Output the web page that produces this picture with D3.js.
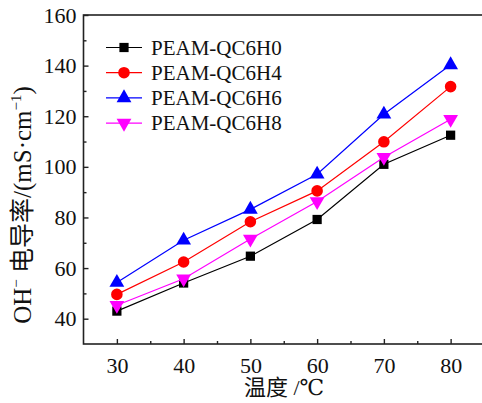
<!DOCTYPE html>
<html><head><meta charset="utf-8">
<script src="https://cdn.jsdelivr.net/npm/d3@7"></script>
<style>body{margin:0;background:#fff}svg{display:block}</style>
</head><body>
<svg id="c" width="482" height="403"></svg>
<script>
const temps = [30, 40, 50, 60, 70, 80];
const h0 = [43, 54.1, 64.7, 79.2, 101, 112.5];
const h4 = [49.6, 62.4, 78.3, 90.5, 109.9, 131.7];
const h6 = [54.3, 71, 83.2, 97.1, 120.8, 140.3];
const h8 = [45.3, 55.8, 71.5, 86.3, 103.8, 118.8];
const seriesNames = ["PEAM-QC6H0", "PEAM-QC6H4", "PEAM-QC6H6", "PEAM-QC6H8"];
const seriesColors = ["#000000", "#ff0000", "#0000ff", "#ff00ff"];
const seriesShapes = ["square", "circle", "up", "down"];
const yTicks = [40, 60, 80, 100, 120, 140, 160];
const xTicks = [30, 40, 50, 60, 70, 80];

const series = [h0, h4, h6, h8].map((v, i) => ({name: seriesNames[i], color: seriesColors[i], shape: seriesShapes[i], values: v}));

const svg = d3.select("#c");
const L = 83.5, R = 484, T = 15, B = 344;
const x = d3.scaleLinear().domain([25, 85]).range([L, R]);
const y = d3.scaleLinear().domain([30, 160]).range([B, T]);
const font = "Liberation Serif, Times New Roman, Tinos, DejaVu Serif, Noto Sans CJK SC, serif";

// frame
svg.append("rect").attr("x", L).attr("y", T).attr("width", R - L).attr("height", B - T)
  .attr("fill", "none").attr("stroke", "#222").attr("stroke-width", 1.6);

// axes
const xAxis = d3.axisBottom(x).tickValues(xTicks).tickSize(-5).tickPadding(13).tickFormat(d3.format("d"));
const gx = svg.append("g").attr("transform", `translate(0,${B})`).call(xAxis);
const xMinor = d3.axisBottom(x).tickValues([35, 45, 55, 65, 75]).tickSize(-3).tickFormat("");
const gxm = svg.append("g").attr("transform", `translate(0,${B})`).call(xMinor);
const yAxis = d3.axisLeft(y).tickValues(yTicks).tickSize(-5).tickPadding(7).tickFormat(d3.format("d"));
const gy = svg.append("g").attr("transform", `translate(${L},0)`).call(yAxis);
const yMinor = d3.axisLeft(y).tickValues([50, 70, 90, 110, 130, 150]).tickSize(-3).tickFormat("");
const gym = svg.append("g").attr("transform", `translate(${L},0)`).call(yMinor);
[gx, gxm, gy, gym].forEach(g => {
  g.attr("font-family", font).attr("font-size", 22);
  g.select(".domain").remove();
  g.selectAll("line").attr("stroke", "#222").attr("stroke-width", 1.4);
  g.selectAll("text").attr("font-family", font).attr("font-size", 22).attr("fill", "#111");
});

const sym = {
  square: d3.symbol().type(d3.symbolSquare).size(85),
  circle: d3.symbol().type(d3.symbolCircle).size(105),
  up: d3.symbol().type(d3.symbolTriangle).size(95),
};
function marker(g, shape, cx, cy, color) {
  if (shape === "down") {
    g.append("path").attr("d", sym.up()).attr("transform", `translate(${cx},${cy}) rotate(180)`).attr("fill", color);
  } else {
    g.append("path").attr("d", sym[shape]()).attr("transform", `translate(${cx},${cy})`).attr("fill", color);
  }
}

const line = d3.line().x((d, i) => x(temps[i])).y(d => y(d));
series.forEach(s => {
  const g = svg.append("g");
  g.append("path").attr("d", line(s.values)).attr("fill", "none").attr("stroke", s.color).attr("stroke-width", 1.2);
  s.values.forEach((v, i) => marker(g, s.shape, x(temps[i]), y(v), s.color));
});

// legend
series.forEach((s, i) => {
  const ly = 47.5 + i * 25.2;
  const g = svg.append("g");
  g.append("line").attr("x1", 106).attr("x2", 142).attr("y1", ly).attr("y2", ly).attr("stroke", s.color).attr("stroke-width", 1.2);
  marker(g, s.shape, 124, ly, s.color);
  g.append("text").attr("x", 151).attr("y", ly + 7).attr("font-family", font).attr("font-size", 21).attr("fill", "#111").text(s.name);
});

// axis titles
svg.append("text").attr("x", 284).attr("y", 395).attr("text-anchor", "middle")
  .attr("font-family", font).attr("font-size", 22).attr("fill", "#111")
  .text("温度 /℃");
const yt = svg.append("text").attr("transform", "translate(31,205) rotate(-90)").attr("text-anchor", "middle")
  .attr("font-family", font).attr("font-size", 25).attr("fill", "#111");
yt.append("tspan").text("OH");
yt.append("tspan").attr("dy", -10).attr("font-size", 15).text("−");
yt.append("tspan").attr("dy", 10).text(" 电导率/(mS·cm");
yt.append("tspan").attr("dy", -10).attr("font-size", 15).text("−1");
yt.append("tspan").attr("dy", 10).text(")");
</script>
</body></html>
